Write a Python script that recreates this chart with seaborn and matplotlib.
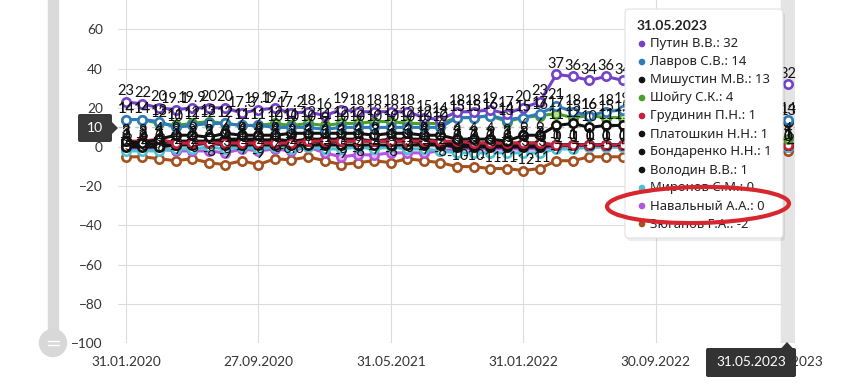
import numpy as np
import pandas as pd
import matplotlib
matplotlib.use('Agg')
import matplotlib.pyplot as plt
import seaborn as sns
from matplotlib.patches import FancyBboxPatch, Ellipse, Polygon, Rectangle, Circle

# tick labels, one every 8 polls
tick_labels = ['31.01.2020', '27.09.2020', '31.05.2021', '31.01.2022', '30.09.2022', '31.05.2023']
tick_step = 8
hover_date = '31.05.2023'

names = ['Путин В.В.', 'Лавров С.В.', 'Мишустин М.В.', 'Шойгу С.К.', 'Грудинин П.Н.',
         'Платошкин Н.Н.', 'Бондаренко Н.Н.', 'Володин В.В.', 'Миронов С.М.',
         'Навальный А.А.', 'Зюганов Г.А.']

putin = [23, 22, 20, 19.1, 19.9, 20, 20, 17.3, 19.1, 19.7, 17.2, 18, 16, 19, 18, 18, 18, 18, 15, 14,
         18, 18, 19, 17, 20, 23, 37, 36, 34, 36, 34, 35, 34, 35, 33, 34, 33, 32, 33, 33, 32]
lavrov = [14, 14, 13, 10, 11, 12, 12, 11, 11, 10, 10, 10, 9, 10, 10, 10, 10, 10, 10, 10,
          15, 15, 16, 14, 15, 17, 21, 18, 16, 18, 19, 17, 18, 17, 16, 17, 16, 15, 16, 15, 14]
mishustin = [3, 2, 4, 6, 6, 5, 7, 6, 6, 6, 7, 7, 7, 7, 7, 6, 7, 7, 6, 6,
             4, 4, 4, 3, 6, 6, 11, 12, 10, 11, 11, 12, 12, 11, 12, 13, 12, 13, 13, 12, 13]
shoigu = [14, 14, 12, 11, 12, 13, 12, 11, 11, 12, 11, 12, 11, 12, 12, 13, 13, 12, 12, 12,
          15, 15, 16, 13, 15, 16, 17, 15, 16, 15, 15, 14, 13, 12, 11, 10, 9, 8, 7, 6, 4]
grudinin = [3, 3, 4, 2, 2, 2, 2, 2, 2, 2, 2, 3, 3, 3, 3, 3, 3, 3, 3, 3,
            3, 2, 2, 2, 2, 2, 1, 1, 1, 1, 1, 1, 1, 1, 1, 1, 1, 1, 1, 1, 1]
platoshkin = [0, 0, 0, 1, 2, 3, 3, 3, 3, 4, 3, 4, 4, 4, 4, 3, 4, 4, 4, 3,
              2, 2, 2, 2, 2, 2, 1, 1, 1, 1, 1, 1, 1, 1, 1, 1, 1, 1, 1, 1, 1]
bondarenko = [1, 1, 2, 3, 3, 3, 4, 4, 4, 3, 3, 3, 2, 3, 3, 3, 3, 3, 2, 2,
              1, 1, 1, 1, 1, 1, 1, 1, 1, 1, 1, 1, 1, 1, 1, 1, 1, 1, 1, 1, 1]
volodin = [2, 2, 1, 1, 1, 2, 1, 1, 1, 1, 1, 1, 1, 1, 1, 1, 1, 1, 1, 1,
           0, 0, 0, 0, 0, 0, 1, 1, 1, 1, 1, 1, 1, 1, 1, 1, 1, 1, 1, 1, 1]
mironov = [-2, -2, -2, -1, -1, 0, -1, 0, -1, 0, -1, 0, -1, -1, 0, -1, 0, -1, -1, -2,
           -3, -3, -3, -3, -3, -3, -1, -1, 0, 0, 0, 0, 0, 0, 0, 0, 0, 0, 0, 0, 0]
navalny = [-1, -1, -1, -2, -2, -2, -3, -1, -2, -1, -2, 0, -3, -5, -4, -4, -3, -3, -3, -2,
           -1, -1, -1, -1, -1, -1, 0, 0, 0, 0, 0, 0, 0, 0, 0, 0, 0, 0, 0, 0, 0]
zyuganov = [-5, -5, -6, -7, -6, -8, -9, -7, -9, -6, -6.6, -5, -7, -9, -8, -7, -8, -6, -7, -8,
            -10, -10, -11, -11, -12, -11, -7, -7, -5, -5, -5, -5, -4, -4, -5, -4, -3, -3, -4, -3, -2]

series = [putin, lavrov, mishustin, shoigu, grudinin, platoshkin, bondarenko, volodin,
          mironov, navalny, zyuganov]
colors = ['#7442c8', '#2f7ab9', '#111111', '#4a9e2a', '#c8213f', '#111111', '#111111',
          '#111111', '#4cc3d4', '#b455e0', '#a5511f']
faces = ['white', 'white', 'white', '#b8e08c', 'white', 'white', 'white', 'white',
         'white', '#e2b6f2', 'white']

sns.set_style('white')
plt.rcParams['font.family'] = ['Lato', 'DejaVu Sans']

fig = plt.figure(figsize=(8.46, 3.85), dpi=100)
W, H = 846, 385
ax = fig.add_axes([118 / W, (H - 343) / H, (795 - 118) / W, 343 / H])

idx = np.arange(len(putin))
for k in range(len(series) - 1, -1, -1):
    vals = series[k]
    sns.lineplot(x=idx, y=vals, ax=ax, color=colors[k], marker='o', markersize=6,
                 markeredgewidth=1.9, markerfacecolor=faces[k], markeredgecolor=colors[k],
                 linewidth=2.2, zorder=3, legend=False)
    for i, v in zip(idx, vals):
        txt = '%d' % v if float(v).is_integer() else '%g' % v
        ax.annotate(txt, (i, v), xytext=(0, 2.5), textcoords='offset points',
                    ha='center', va='bottom', fontsize=10.5, color='#111111', zorder=5)

ax.set_xlim(-0.48, 40.42)
ax.set_ylim(-100, 75)
ax.set_yticks(np.arange(-100, 61, 20))
ax.set_xticks(np.arange(0, len(putin), tick_step))
ax.set_xticklabels(tick_labels)
ax.tick_params(axis='both', length=0, labelsize=9.8, labelcolor='#333333')
ax.tick_params(axis='y', pad=11)
ax.tick_params(axis='x', pad=9)
ax.grid(True, color='#dcdcdc', linewidth=0.8)
ax.set_axisbelow(True)
for s in ax.spines.values():
    s.set_visible(False)
ax.set_xlabel('')
ax.set_ylabel('')

# crosshair band and level line
ax.axvspan(len(putin) - 1.4, len(putin) - 0.6, color='#e4e4e4', zorder=1)
ax.axhline(10, color='#c4c4c4', linestyle=(0, (3, 3)), linewidth=1, zorder=2)

# overlay in pixel coordinates
ov = fig.add_axes([0, 0, 1, 1])
ov.set_xlim(0, W)
ov.set_ylim(H, 0)
ov.axis('off')

# slider
ov.add_patch(Rectangle((48, 0), 10, 336, color='#dadada', zorder=1))
ov.add_patch(Circle((53, 343), 13.5, color='#d8d8d8', zorder=2))
ov.plot([47.5, 58.5], [341, 341], color='white', lw=1, zorder=3)
ov.plot([47.5, 58.5], [345, 345], color='white', lw=1, zorder=3)

# "10" level label
ov.add_patch(FancyBboxPatch((78, 114), 34, 28, boxstyle='round,pad=0,rounding_size=2',
                            fc='#3a3a3a', ec='none', zorder=4))
ov.add_patch(Polygon([(112, 122), (118, 128), (112, 134)], closed=True, fc='#3a3a3a', ec='none', zorder=4))
ov.text(95, 128, '10', color='white', fontsize=10, ha='center', va='center', zorder=5)

# tooltip
ov.add_patch(FancyBboxPatch((627, 12), 158, 229, boxstyle='round,pad=0,rounding_size=4',
                            fc='#000000', ec='none', alpha=0.07, zorder=6))
ov.add_patch(FancyBboxPatch((625, 9), 158, 229, boxstyle='round,pad=0,rounding_size=4',
                            fc='white', ec='#e2e2e2', lw=0.8, zorder=7))
tfont = ['Noto Sans', 'DejaVu Sans']
ov.text(637, 26, hover_date, fontsize=10, fontweight='bold', family=['Lato', 'DejaVu Sans'],
        color='#222222', va='center', zorder=8)
for k, name in enumerate(names):
    y = 44 + 18 * k
    ov.add_patch(Circle((642, y), 2.6, color=colors[k], zorder=8))
    v = series[k][-1]
    ov.text(650, y, '%s: %g' % (name, v), fontsize=9.4, family=tfont,
            color='#222222', va='center', zorder=8)

ov.add_patch(Ellipse((698, 205), 182, 36, angle=-1, fill=False, ec='#d7262e', lw=3, zorder=9))

# hovered date label under the axis
ov.add_patch(FancyBboxPatch((706, 348), 90, 29, boxstyle='round,pad=0,rounding_size=2',
                            fc='#333333', ec='none', zorder=6))
ov.add_patch(Polygon([(781, 348.5), (787, 342), (793, 348.5)], closed=True, fc='#333333', ec='none', zorder=6))
ov.text(751, 362.5, hover_date, color='white', fontsize=9.8, ha='center', va='center', zorder=7)

fig.savefig('out.png', dpi=100)
